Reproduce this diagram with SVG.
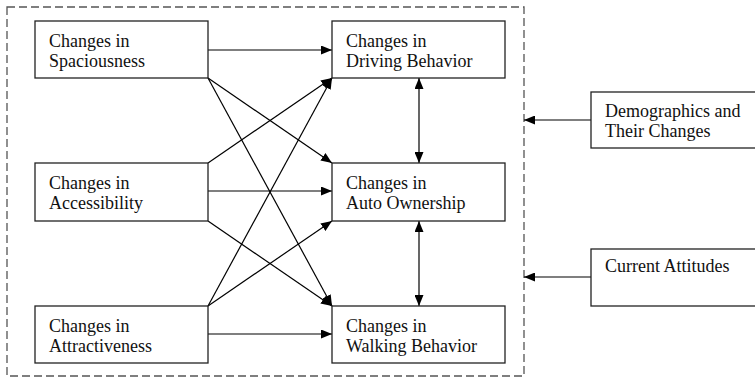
<svg xmlns="http://www.w3.org/2000/svg" width="755" height="379" viewBox="0 0 755 379">
<defs>
<marker id="ah" viewBox="0 0 11 9" refX="11" refY="4.5" markerWidth="11" markerHeight="9" markerUnits="userSpaceOnUse" orient="auto-start-reverse">
<path d="M0,0 L11,4.5 L0,9 Z" fill="#000"/>
</marker>
<style>
.box{fill:#fff;stroke:#222;stroke-width:1.3}
.t{font-family:"Liberation Serif","Times New Roman",serif;font-size:18px;fill:#111}
.c{stroke:#000;stroke-width:1.2;fill:none}
</style>
</defs>
<rect x="0" y="0" width="755" height="379" fill="#fff"/>
<rect id="frame" x="7" y="7" width="517" height="369" fill="none" stroke="#555" stroke-width="1.3" stroke-dasharray="8,4"/>
<g id="connectors">
<line class="c" x1="208" y1="50" x2="332" y2="50" marker-end="url(#ah)"/>
<line class="c" x1="208" y1="78" x2="332" y2="163" marker-end="url(#ah)"/>
<line class="c" x1="208" y1="78" x2="332" y2="306" marker-end="url(#ah)"/>
<line class="c" x1="208" y1="163" x2="332" y2="78" marker-end="url(#ah)"/>
<line class="c" x1="208" y1="191" x2="332" y2="191" marker-end="url(#ah)"/>
<line class="c" x1="208" y1="221" x2="332" y2="306" marker-end="url(#ah)"/>
<line class="c" x1="208" y1="306" x2="332" y2="78" marker-end="url(#ah)"/>
<line class="c" x1="208" y1="306" x2="332" y2="221" marker-end="url(#ah)"/>
<line class="c" x1="208" y1="334" x2="332" y2="334" marker-end="url(#ah)"/>
<line class="c" x1="419" y1="78" x2="419" y2="163" marker-start="url(#ah)" marker-end="url(#ah)"/>
<line class="c" x1="419" y1="221" x2="419" y2="306" marker-start="url(#ah)" marker-end="url(#ah)"/>
<line class="c" x1="591" y1="120" x2="524" y2="120" marker-end="url(#ah)"/>
<line class="c" x1="591" y1="277" x2="524" y2="277" marker-end="url(#ah)"/>
</g>
<g id="spaciousness">
<rect class="box" x="35" y="21" width="173" height="57"/>
<text class="t" x="49" y="47">Changes in</text>
<text class="t" x="49" y="67">Spaciousness</text>
</g>
<g id="accessibility">
<rect class="box" x="35" y="163" width="173" height="58"/>
<text class="t" x="49" y="189">Changes in</text>
<text class="t" x="49" y="209">Accessibility</text>
</g>
<g id="attractiveness">
<rect class="box" x="35" y="306" width="173" height="57"/>
<text class="t" x="49" y="332">Changes in</text>
<text class="t" x="49" y="352">Attractiveness</text>
</g>
<g id="driving">
<rect class="box" x="332" y="21" width="173" height="57"/>
<text class="t" x="346" y="47">Changes in</text>
<text class="t" x="346" y="67">Driving Behavior</text>
</g>
<g id="ownership">
<rect class="box" x="332" y="163" width="173" height="58"/>
<text class="t" x="346" y="189">Changes in</text>
<text class="t" x="346" y="209">Auto Ownership</text>
</g>
<g id="walking">
<rect class="box" x="332" y="306" width="173" height="57"/>
<text class="t" x="346" y="332">Changes in</text>
<text class="t" x="346" y="352">Walking Behavior</text>
</g>
<g id="demographics">
<rect class="box" x="591" y="92" width="170" height="56"/>
<text class="t" x="605" y="117">Demographics and</text>
<text class="t" x="605" y="137">Their Changes</text>
</g>
<g id="attitudes">
<rect class="box" x="591" y="249" width="170" height="57"/>
<text class="t" x="605" y="272">Current Attitudes</text>
</g>
</svg>
